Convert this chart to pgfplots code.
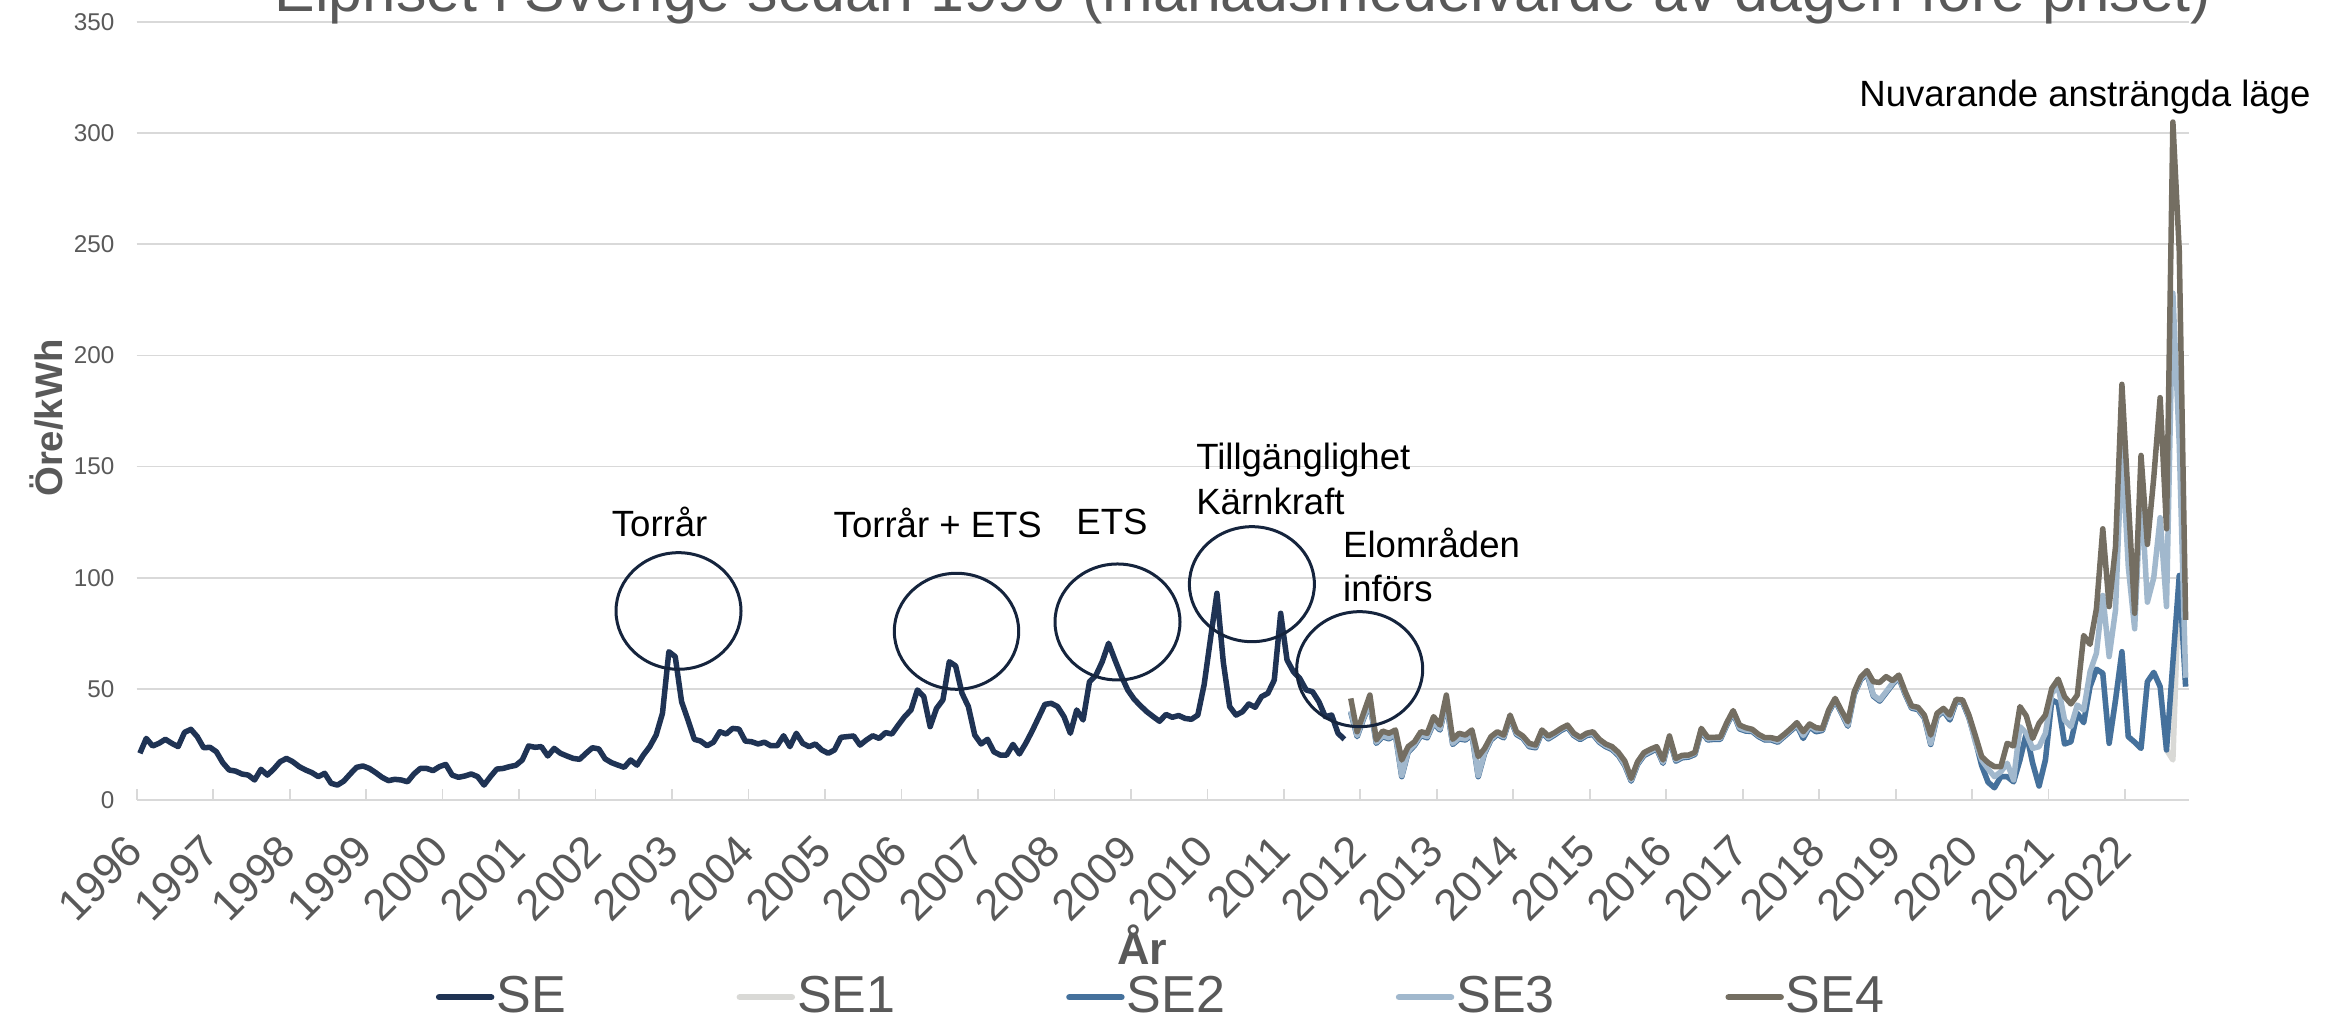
\documentclass[border=0pt]{standalone}
\usepackage{fontspec}
\setmainfont{Liberation Sans}
\usepackage{pgfplots}
\usepackage{pgfplotstable}
\pgfplotsset{compat=1.18}
\definecolor{cSE}{HTML}{1F3354}
\definecolor{cSEa}{HTML}{D9D9D6}
\definecolor{cSEb}{HTML}{45719C}
\definecolor{cSEc}{HTML}{A1B8CD}
\definecolor{cSEd}{HTML}{746E62}
\definecolor{cgrid}{HTML}{D9D9D9}
\definecolor{ctext}{HTML}{595959}
\definecolor{ccirc}{HTML}{15243D}

\pgfplotstableread[row sep=\\]{
m v\\
0 21.0\\1 27.7\\2 24.3\\3 25.5\\4 27.3\\5 25.5\\6 24.0\\7 30.4\\8 31.8\\9 28.5\\10 23.5\\11 23.7\\
12 21.7\\13 16.8\\14 13.5\\15 13.0\\16 11.7\\17 11.2\\18 9.0\\19 13.8\\20 11.2\\21 13.9\\22 17.2\\23 18.7\\
24 17.2\\25 15.0\\26 13.5\\27 12.3\\28 10.5\\29 12.0\\30 7.5\\31 6.7\\32 8.5\\33 11.7\\34 14.7\\35 15.3\\
36 14.2\\37 12.3\\38 10.2\\39 8.7\\40 9.3\\41 9.0\\42 8.2\\43 11.7\\44 14.2\\45 14.2\\46 13.2\\47 15.0\\
48 16.0\\49 11.2\\50 10.2\\51 10.8\\52 11.7\\53 10.5\\54 6.7\\55 10.5\\56 13.9\\57 14.2\\58 15.0\\59 15.6\\
60 18.0\\61 24.3\\62 23.7\\63 24.0\\64 19.8\\65 23.2\\66 21.0\\67 19.8\\68 18.7\\69 18.3\\70 21.0\\71 23.5\\
72 23.0\\73 18.5\\74 16.8\\75 15.7\\76 14.7\\77 18.0\\78 15.7\\79 20.2\\80 24.0\\81 29.2\\82 39.0\\83 66.7\\
84 64.5\\85 44.2\\86 36.0\\87 27.3\\88 26.5\\89 24.4\\90 26.0\\91 30.7\\92 29.7\\93 32.2\\94 31.9\\95 26.5\\
96 26.2\\97 25.2\\98 26.0\\99 24.4\\100 24.4\\101 28.9\\102 24.0\\103 30.0\\104 25.5\\105 24.0\\106 25.2\\107 22.5\\
108 21.0\\109 22.5\\110 28.2\\111 28.5\\112 28.8\\113 24.7\\114 27.0\\115 28.9\\116 27.7\\117 30.3\\118 29.7\\119 33.7\\
120 37.5\\121 40.5\\122 49.5\\123 46.5\\124 33.0\\125 41.2\\126 45.0\\127 62.2\\128 60.3\\129 48.0\\130 42.0\\131 29.2\\
132 25.2\\133 27.3\\134 21.7\\135 20.2\\136 20.2\\137 25.0\\138 20.7\\139 25.5\\140 31.0\\141 37.0\\142 43.0\\143 43.5\\
144 42.0\\145 37.5\\146 30.0\\147 40.5\\148 36.0\\149 53.2\\150 56.0\\151 62.2\\152 70.5\\153 63.0\\154 55.8\\155 49.5\\
156 45.4\\157 42.4\\158 39.7\\159 37.5\\160 35.4\\161 38.5\\162 37.2\\163 38.0\\164 36.7\\165 36.3\\166 38.2\\167 52.0\\
168 72.7\\169 93.0\\170 62.0\\171 42.0\\172 38.2\\173 39.7\\174 43.2\\175 41.7\\176 46.5\\177 48.0\\178 54.0\\179 84.0\\
180 63.0\\181 57.7\\182 54.7\\183 49.5\\184 48.7\\185 44.2\\186 37.5\\187 38.2\\188 30.0\\189 27.3\\
}\tabSE

\pgfplotstableread[row sep=\\]{
m s1 s2 s3 s4\\
190 39.5 39.5 40 45.7\\191 28.5 28.5 29 30.7\\192 36.5 36.5 37 39\\193 43.5 43.5 44 47.2\\
194 25.5 25.5 26 27\\195 28.5 28.5 29 31\\196 27.5 27.5 28 30\\197 29.5 29.5 30 31.5\\
198 10.5 10.5 11 18\\199 21.5 21.5 22 24\\200 24.5 24.5 25 26.2\\201 29 29 29.5 30.7\\
202 28 28 28.5 30\\203 34.5 34.5 35 37.5\\204 31.5 31.5 32 33.7\\205 43.5 43.5 44 47.2\\
206 25 25 25.5 27.3\\207 27.5 27.5 28 30\\208 27 27 27.5 29.2\\209 29.5 29.5 30 31.5\\
210 10.5 10.5 11 19.5\\211 21 21 21.5 23.2\\212 27 27 27.5 28.5\\213 29.5 29.5 30 30.7\\
214 28 28 28.5 29.2\\215 37 37 37.5 38.2\\216 29.5 29.5 30 30.7\\217 27.8 27.8 28.3 28.8\\
218 24 24 24.5 25.5\\219 23.5 23.5 24 24.7\\220 30.5 30.5 31 31.5\\221 27.5 27.5 28 28.8\\
222 29.3 29.3 29.8 30.3\\223 31.3 31.3 31.8 32.2\\224 32.7 32.7 33.2 33.7\\225 29 29 29.5 30\\
226 27.2 27.2 27.7 28.2\\227 29 29 29.5 30\\228 29.5 29.5 30 30.7\\229 26 26 26.5 27.3\\
230 24 24 24.5 25.2\\231 22.7 22.7 23.2 24\\232 20 20 20.5 21.4\\233 15.5 15.5 16 17.5\\
234 8.5 8.5 9 9.7\\235 16 16 16.5 17.2\\236 20 20 20.5 21.3\\237 21.5 21.5 22 22.8\\
238 23 23 23.5 24\\239 16.5 16.5 17 18\\240 27.5 27.5 28 28.8\\241 17.5 17.5 18 18.7\\
242 19 19 19.5 20.1\\243 19.3 19.3 19.8 20.2\\244 20.5 20.5 21 21.4\\245 31 31 31.5 32.2\\
246 27 27 27.5 28.2\\247 27.3 27.3 27.8 28.2\\248 27.3 27.3 27.8 28.3\\249 33.7 33.7 34.2 34.8\\
250 39.2 39.2 39.7 40.2\\251 32 32 32.5 33.7\\252 31 31 31.5 32.5\\253 30.8 30.8 31.3 31.8\\
254 28.5 28.5 29 29.5\\255 27 27 27.5 28\\256 27 27 27.5 28\\257 26 26 26.5 27.3\\
258 28.5 28.5 29 29.5\\259 31 31 31.5 32\\260 33.5 33.5 34 34.8\\261 27.7 27.7 29 30.7\\
262 33 33 33.5 34.2\\263 30.7 30.7 31.5 32.5\\264 31.3 31.3 31.8 32.2\\265 39.5 39.5 40 40.5\\
266 44.7 44.7 45.2 45.7\\267 39 39 39.5 40.2\\268 33.2 33.2 33.7 35.2\\269 47.5 47.5 48 48.7\\
270 54 54 54.5 55.2\\271 57 57 57.5 58.2\\272 46.7 46.7 47.2 53.2\\273 44.5 44.5 45 52.9\\
274 48.2 48.2 48.7 55.5\\275 52 52 52.5 53.7\\276 55 55 55.5 56.2\\277 47.5 47.5 48 48.7\\
278 41.3 41.3 41.8 42.3\\279 40.7 40.7 41.2 41.7\\280 37 37 37.5 38.2\\281 25 25 25.5 29.2\\
282 37.5 37.5 38 39\\283 40 40 40.5 41.2\\284 36 36 37 38.2\\285 44.3 44.3 44.8 45.3\\
286 44 44 44.5 45\\287 37 37 37.5 38.2\\288 27 27 26 29\\289 15.5 15.5 18 19.5\\
290 8 8 14 16.8\\291 5.5 5.5 10.5 15\\292 10.5 10.5 12.7 15\\293 10.5 10.5 16.5 25.5\\
294 8.2 8.2 9 24.3\\295 18 18 33 42\\296 30 30 30 37.8\\297 16.5 16.5 23.2 27.7\\
298 6.3 6.3 24 34.5\\299 18 18 30 38.2\\300 45 45 48 50.2\\301 43.5 43.5 51 54.4\\
302 25.2 25.2 36 46.5\\303 26.2 26.2 33 43.2\\304 39 39 42.7 47.2\\305 34.8 34.8 40.5 74\\
306 51 51 57.7 70\\307 58.8 58.8 66 86\\308 57 57 92 122\\309 25.5 25.5 64.5 87\\
310 45 45 85.5 114\\311 66.7 66.7 160 187\\312 28.5 28.5 105 135\\313 26 26 77 84\\
314 23.2 23.2 140 155\\315 53.2 53.2 89 115\\316 57.4 57.4 100 145\\317 51 51 127 181\\
318 22.5 22.5 87 122\\319 18 62 228 305\\320 101 101 160 247\\321 51 51 55 81\\
}\tabZones

\begin{document}
\begin{tikzpicture}
\useasboundingbox (0,0) rectangle (23.26,10.20);
\clip (0,0) rectangle (23.26,10.20);
\begin{axis}[
  at={(1.367cm,2.20cm)}, anchor=south west,
  scale only axis, width=20.521cm, height=7.78cm,
  xmin=-0.5, xmax=321.5, ymin=0, ymax=350,
  xtick={-0.5,11.5,...,311.5},
  xticklabels={1996,1997,1998,1999,2000,2001,2002,2003,2004,2005,2006,2007,2008,2009,2010,2011,2012,2013,2014,2015,2016,2017,2018,2019,2020,2021,2022},
  ytick={0,50,100,150,200,250,300,350},
  yticklabels={0,50,100,150,200,250,300,350},
  ymajorgrids, grid style={cgrid, line width=0.017cm},
  axis x line*=bottom, axis y line*=left,
  x axis line style={cgrid, line width=0.02cm, -},
  y axis line style={draw=none},
  tick align=inside, major tick length=0.107cm,
  xtick style={cgrid, line width=0.017cm},
  ytick style={draw=none},
  yticklabel style={font=\fontsize{6.9}{8}\selectfont, text=ctext, anchor=east, inner sep=0pt, xshift=-0.217cm},
  xticklabel style={font=\fontsize{12.5}{14}\selectfont, text=ctext, anchor=east, inner sep=0pt, xshift=-0.017cm, yshift=-0.43cm, rotate=45},
  xlabel={År},
  xlabel style={font=\bfseries\fontsize{12.8}{14}\selectfont, text=ctext, at={(axis description cs:0.4899,-0.2121)}, anchor=base, inner sep=0pt},
  ylabel={Öre/kWh},
  ylabel style={font=\bfseries\fontsize{10.9}{12}\selectfont, text=ctext, at={(axis description cs:-0.0437,0.491)}, anchor=center, inner sep=0pt},
  legend columns=5,
  legend cell align=left,
  legend style={at={(axis description cs:0.1458,-0.2535)}, anchor=west, draw=none, fill=none, inner sep=0pt, outer sep=0pt,
    font=\fontsize{14.8}{16}\selectfont, text=ctext, nodes={inner sep=0pt},
    /tikz/every odd column/.append style={column sep=0.02cm},
    /tikz/every even column/.append style={column sep=1.708cm}},
  legend image code/.code={\draw[#1,line cap=round,line width=0.065cm] (0cm,0cm) -- (0.52cm,0cm);},
  every axis plot post/.append style={line width=0.055cm, line join=round, mark=none},
]
\addplot[cSE] table[x=m,y=v] {\tabSE};
\addlegendentry{SE}
\addplot[cSEa] table[x=m,y=s1] {\tabZones};
\addlegendentry{SE1}
\addplot[cSEb] table[x=m,y=s2] {\tabZones};
\addlegendentry{SE2}
\addplot[cSEc] table[x=m,y=s3] {\tabZones};
\addlegendentry{SE3}
\addplot[cSEd] table[x=m,y=s4] {\tabZones};
\addlegendentry{SE4}
\end{axis}
\node[anchor=base west, inner sep=0pt, text=ctext, font=\fontsize{17.3}{19}\selectfont] at (2.74,10.08) {Elpriset i Sverige sedan 1996 (månadsmedelvärde av dagen före priset)};
\begin{scope}[every node/.style={inner sep=0pt, font=\fontsize{10.4}{12.5}\selectfont, text=black}]
\node[anchor=base] at (6.596,4.83) {Torrår};
\node[anchor=base] at (9.378,4.827) {Torrår + ETS};
\node[anchor=base] at (11.12,4.857) {ETS};
\node[anchor=base west] at (11.956,5.50) {Tillgänglighet};
\node[anchor=base west] at (11.956,5.057) {Kärnkraft};
\node[anchor=base west] at (13.425,4.623) {Elområden};
\node[anchor=base west] at (13.425,4.183) {införs};
\node[anchor=base west] at (18.587,9.13) {Nuvarande ansträngda läge};
\end{scope}
\begin{scope}[ccirc, line width=0.03cm]
\draw (6.785,4.09) ellipse [x radius=0.625cm, y radius=0.583cm];
\draw (9.565,3.887) ellipse [x radius=0.622cm, y radius=0.58cm];
\draw (11.175,3.98) ellipse [x radius=0.625cm, y radius=0.58cm];
\draw (12.519,4.358) ellipse [x radius=0.625cm, y radius=0.575cm];
\draw (13.597,3.508) ellipse [x radius=0.63cm, y radius=0.575cm];
\end{scope}
\end{tikzpicture}
\end{document}
